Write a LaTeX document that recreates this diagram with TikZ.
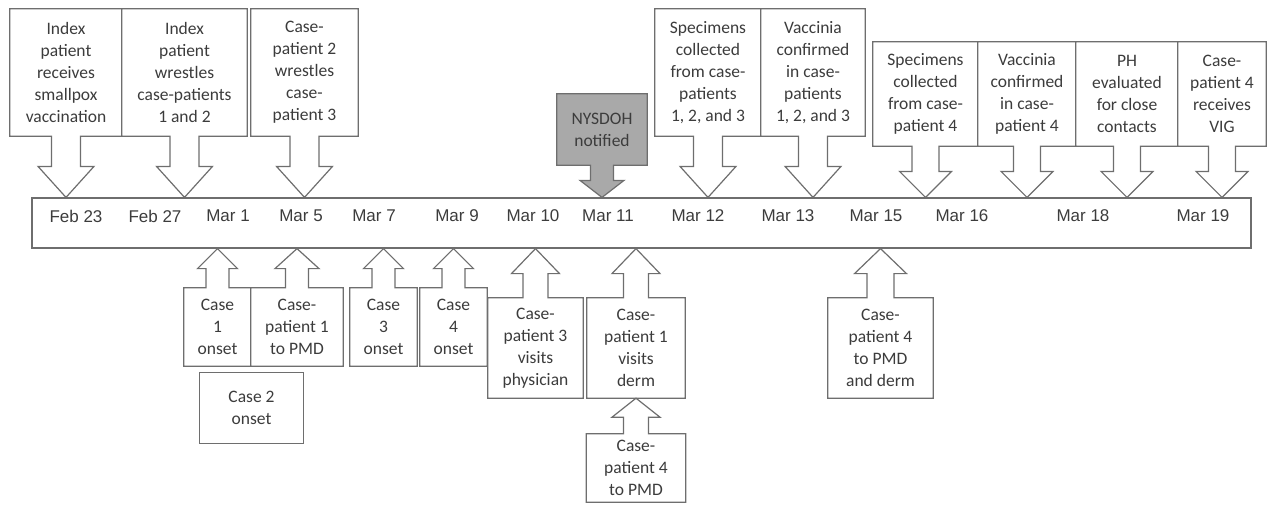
\documentclass[tikz,border=0pt]{standalone}
\usepackage{fontspec}
\setmainfont{Carlito}
\newfontfamily\datefont{Liberation Sans}
\usetikzlibrary{calc,backgrounds}

\definecolor{edgegray}{HTML}{6E6E6E}
\definecolor{inkgray}{HTML}{3C3C3C}
\definecolor{notegray}{HTML}{A9A9A9}

\tikzset{
  evbox/.style 2 args={minimum width=#1pt, minimum height=#2pt, inner sep=0pt,
    align=center, text=inkgray, font=\fontsize{17.5}{22}\selectfont},
  outline/.style={draw=edgegray, line width=1.2pt, line join=miter, fill=white},
  datetext/.style={text=inkgray, inner sep=0pt, font=\datefont\fontsize{17}{20}\selectfont}
}

% callout pointing down: node, tip, shaft half, head half, head length
\newcommand{\downcall}[6][]{%
  \draw[outline,#1] (#2.north west) -- (#2.north east) -- (#2.south east)
    -- ($(#2.south)+(#4,0)$) -- ($(#3)+(#4,-#6)$) -- ($(#3)+(#5,-#6)$) -- (#3)
    -- ($(#3)+(-#5,-#6)$) -- ($(#3)+(-#4,-#6)$) -- ($(#2.south)+(-#4,0)$)
    -- (#2.south west) -- cycle;}
% callout pointing up
\newcommand{\upcall}[5]{%
  \draw[outline] (#1.south west) -- (#1.south east) -- (#1.north east)
    -- ($(#1.north)+(#3,0)$) -- ($(#2)+(#3,#5)$) -- ($(#2)+(#4,#5)$) -- (#2)
    -- ($(#2)+(-#4,#5)$) -- ($(#2)+(-#3,#5)$) -- ($(#1.north)+(-#3,0)$)
    -- (#1.north west) -- cycle;}

\begin{document}
\begin{tikzpicture}[x=1pt,y=-1pt]
  \useasboundingbox (0,0) rectangle (1267,504);

  % timeline bar
  \node[draw=edgegray, line width=1.2pt, minimum width=1219pt, minimum height=50pt, inner sep=0pt] (bar) at (641.5,223) {};
  \foreach \x/\d [count=\i] in {76/Feb 23, 155/Feb 27, 228/Mar 1, 301/Mar 5, 374/Mar 7,
      457/Mar 9, 533/Mar 10, 608/Mar 11, 698/Mar 12, 788/Mar 13, 876/Mar 15,
      962/Mar 16, 1083/Mar 18, 1203/Mar 19}
    \node[datetext] (d\i) at (\x,216) {\d};

  % events above
  \node[evbox={112}{127}] (vacc) at (66,72.5) {Index\\patient\\receives\\smallpox\\vaccination};
  \node[evbox={125}{127}] (wrest) at (184.5,72.5) {Index\\patient\\wrestles\\case-patients\\1 and 2};
  \node[evbox={107}{127}] (wrestb) at (304.5,72.5) {Case-\\patient 2\\wrestles\\case-\\patient 3};
  \node[evbox={90}{71}] (nysdoh) at (602,129.5) {NYSDOH\\notified};
  \node[evbox={106}{127}] (spec) at (708,72.5) {Specimens\\collected\\from case-\\patients\\1, 2, and 3};
  \node[evbox={104}{127}] (conf) at (813,72.5) {Vaccinia\\confirmed\\in case-\\patients\\1, 2, and 3};
  \node[evbox={105}{104}] (specb) at (925.5,94) {Specimens\\collected\\from case-\\patient 4};
  \node[evbox={98}{104}] (confb) at (1027,94) {Vaccinia\\confirmed\\in case-\\patient 4};
  \node[evbox={102}{104}] (ph) at (1127,94) {PH\\evaluated\\for close\\contacts};
  \node[evbox={88}{104}] (vig) at (1222,94) {Case-\\patient 4\\receives\\VIG};

  % events below
  \node[evbox={67}{78}] (on1) at (217.5,327) {Case\\1\\onset};
  \node[evbox={92}{78}] (pmd1) at (297,327) {Case-\\patient 1\\to PMD};
  \node[evbox={67}{78}] (on3) at (383.5,327) {Case\\3\\onset};
  \node[evbox={67}{78}] (on4) at (453.5,327) {Case\\4\\onset};
  \node[evbox={103}{70}] (on2) at (251.5,408) {Case 2\\onset};
  \node[evbox={95}{100}] (phys) at (535.5,348) {Case-\\patient 3\\visits\\physician};
  \node[evbox={98}{100}] (derm) at (636,348) {Case-\\patient 1\\visits\\derm};
  \node[evbox={105}{100}] (pmdderm) at (880.5,348) {Case-\\patient 4\\to PMD\\and derm};
  \node[evbox={99}{68}] (pmd4) at (636,468) {Case-\\patient 4\\to PMD};

  \foreach \n in {vacc,wrest,wrestb,nysdoh,spec,conf,specb,confb,ph,vig}
    \coordinate (t-\n) at (\n.south |- bar.north);
  \foreach \n in {on1,pmd1,on3,on4,phys,derm,pmdderm}
    \coordinate (t-\n) at (\n.north |- bar.south);

  \begin{scope}[on background layer]
    \downcall{vacc}{t-vacc}{14.5}{28}{31}
    \downcall{wrest}{t-wrest}{14.5}{28}{31}
    \downcall{wrestb}{t-wrestb}{14.5}{28}{31}
    \downcall[fill=notegray]{nysdoh}{t-nysdoh}{11.5}{22}{17}
    \downcall{spec}{t-spec}{14.5}{28}{31}
    \downcall{conf}{t-conf}{14.5}{28}{31}
    \downcall{specb}{t-specb}{13.5}{26}{26}
    \downcall{confb}{t-confb}{13.5}{26}{26}
    \downcall{ph}{t-ph}{13.5}{26}{26}
    \downcall{vig}{t-vig}{13.5}{26}{26}
    \upcall{on1}{t-on1}{11.5}{20}{20}
    \upcall{pmd1}{t-pmd1}{11.5}{22}{20}
    \upcall{on3}{t-on3}{11.5}{20}{20}
    \upcall{on4}{t-on4}{11.5}{20}{20}
    \draw[outline] (on2.north west) rectangle (on2.south east);
    \upcall{phys}{t-phys}{12.5}{24}{25}
    \upcall{derm}{t-derm}{12.5}{24}{25}
    \upcall{pmdderm}{t-pmdderm}{13.5}{26}{25}
    \upcall{pmd4}{derm.south}{12.5}{24}{19}
  \end{scope}
\end{tikzpicture}
\end{document}
